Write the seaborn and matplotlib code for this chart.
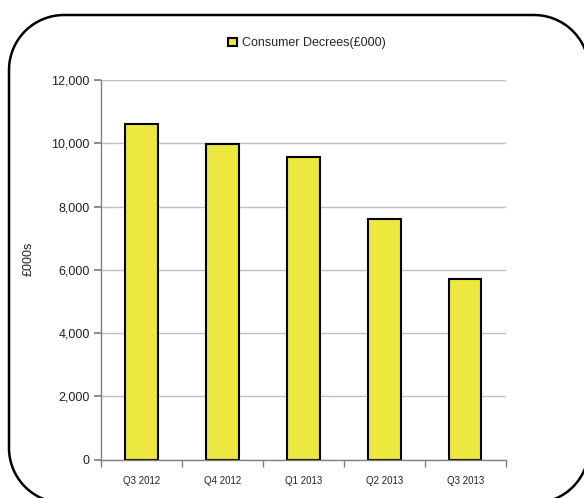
import matplotlib
matplotlib.use("Agg")
import matplotlib.pyplot as plt
import seaborn as sns
import pandas as pd
import numpy as np
from matplotlib.patches import Patch
from matplotlib.ticker import FuncFormatter

quarters = ["Q3 2012", "Q4 2012", "Q1 2013", "Q2 2013", "Q3 2013"]
decrees = [10630, 9990, 9560, 7600, 5700]
series_name = "Consumer Decrees(£000)"

df = pd.DataFrame({"quarter": quarters, "value": decrees})

sns.set_theme(style="white")
plt.rcParams["font.family"] = ["Liberation Sans", "DejaVu Sans"]

fig = plt.figure(figsize=(5.84, 4.98), dpi=100)
ax = fig.add_axes([0.173, 0.077, 0.693, 0.762])

sns.barplot(data=df, x="quarter", y="value", color="#ECE840", edgecolor="black",
            linewidth=1.5, width=0.4, saturation=1, ax=ax)

ax.set_xlim(-0.5, len(quarters) - 0.5)
ax.set_ylim(0, 12000)
ax.set_yticks(range(0, 12001, 2000))
ax.yaxis.set_major_formatter(FuncFormatter(lambda v, p: f"{int(v):,}"))
ax.grid(axis="y", color="#c0c0c0", linewidth=1)
ax.set_axisbelow(True)

for s in ["top", "right"]:
    ax.spines[s].set_visible(False)
for s in ["left", "bottom"]:
    ax.spines[s].set_color("#808080")
    ax.spines[s].set_linewidth(1)

ax.tick_params(axis="y", which="major", left=True, length=5, color="#808080",
               labelsize=9, labelcolor="#222222", pad=3)
ax.tick_params(axis="x", which="major", bottom=False, labelsize=7, pad=6,
               labelcolor="#222222")
ax.set_xticks([i - 0.5 for i in range(len(quarters) + 1)], minor=True)
ax.tick_params(axis="x", which="minor", bottom=True, length=5, color="#808080")

ax.set_xlabel("")
ax.set_ylabel("£000s", fontsize=9, color="#222222")
ax.yaxis.set_label_coords(-0.163, 0.53)

fig.legend(handles=[Patch(facecolor="#ECE840", edgecolor="black", linewidth=1.5,
                          label=series_name)],
           loc="center", bbox_to_anchor=(0.525, 0.913), frameon=False,
           fontsize=9, handlelength=0.7, handleheight=0.7, handletextpad=0.4)

# rounded chart-area border (pixel space overlay), cut off at right and bottom
over = fig.add_axes([0, 0, 1, 1], zorder=-1)
over.set_xlim(0, 584)
over.set_ylim(498, 0)
over.axis("off")
x0, x1, y0, y1, r = 9, 589, 15, 503, 55
pts = []
for cx, cy, a0 in [(x1 - r, y0 + r, -90), (x1 - r, y1 - r, 0),
                   (x0 + r, y1 - r, 90), (x0 + r, y0 + r, 180)]:
    t = np.radians(np.linspace(a0, a0 + 90, 30))
    pts += list(zip(cx + r * np.cos(t), cy + r * np.sin(t)))
pts.append(pts[0])
bx, by = zip(*pts)
over.plot(bx, by, color="black", linewidth=1.8, solid_joinstyle="round")

fig.savefig("out.png", dpi=100)
